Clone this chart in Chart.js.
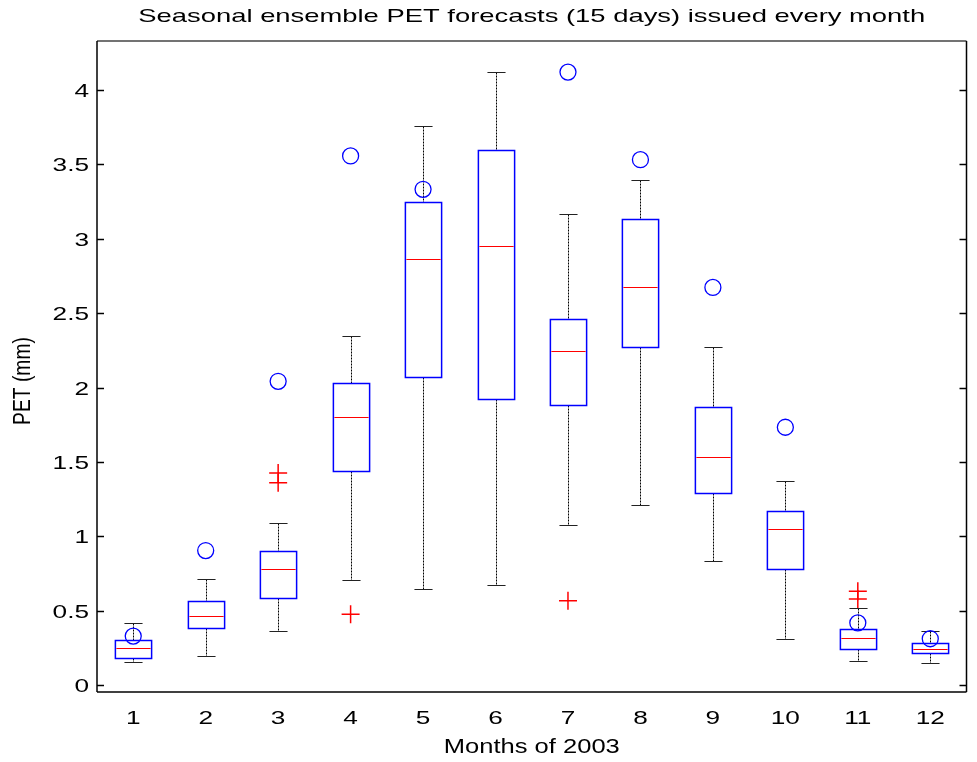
<!DOCTYPE html>
<html>
<head>
<meta charset="utf-8">
<script src="https://cdn.jsdelivr.net/npm/chart.js@4"></script>
<style>
  body { margin: 0; background: #fff; }
  #wrap { width: 977px; height: 762px; }
</style>
</head>
<body>
<div id="wrap"><canvas id="chart"></canvas></div>
<script>
// data
const months = [1, 2, 3, 4, 5, 6, 7, 8, 9, 10, 11, 12];
const upperWhisker = [0.417, 0.713, 1.089, 2.349, 3.758, 4.121, 3.17, 3.398, 2.27, 1.371, 0.52, 0.365];
const q3 = [0.30, 0.568, 0.904, 2.029, 3.25, 3.60, 2.458, 3.13, 1.868, 1.17, 0.378, 0.284];
const medians = [0.246, 0.461, 0.783, 1.80, 2.861, 2.955, 2.244, 2.673, 1.532, 1.049, 0.313, 0.244];
const q1 = [0.179, 0.380, 0.582, 1.441, 2.069, 1.921, 1.881, 2.27, 1.29, 0.78, 0.244, 0.217];
const lowerWhisker = [0.152, 0.193, 0.365, 0.703, 0.646, 0.673, 1.076, 1.21, 0.837, 0.311, 0.163, 0.15];
const observed = [0.329, 0.904, 2.042, 3.557, 3.333, null, 4.121, 3.532, 2.673, 1.733, 0.418, 0.311];
const outlierMonths = [3, 3, 4, 7, 11, 11];
const outlierValues = [1.425, 1.36, 0.476, 0.566, 0.631, 0.579];
const yTicks = [0, 0.5, 1, 1.5, 2, 2.5, 3, 3.5, 4];
const xTicks = months;

const titleText = 'Seasonal ensemble PET forecasts (15 days) issued every month';
const xTitle = 'Months of 2003';
const yTitle = 'PET (mm)';

const FONT = '"Liberation Sans", Arial, sans-serif';

// the reference text looks stretched sideways, so draw it with a horizontal scale
function wideText(ctx, txt, x, y, size, sx, align) {
  ctx.save();
  ctx.translate(x, y);
  ctx.scale(sx, 1);
  ctx.font = size + 'px ' + FONT;
  ctx.textAlign = align;
  ctx.textBaseline = 'middle';
  ctx.fillStyle = '#000';
  ctx.fillText(txt, 0, 0);
  ctx.restore();
}

function line(ctx, x1, y1, x2, y2) {
  ctx.beginPath();
  ctx.moveTo(x1, y1);
  ctx.lineTo(x2, y2);
  ctx.stroke();
}

const boxPlugin = {
  id: 'boxes',
  beforeDatasetsDraw(chart) {
    const ctx = chart.ctx;
    const xs = chart.scales.x, ys = chart.scales.y;
    const half = (xs.getPixelForValue(1.25) - xs.getPixelForValue(1));
    const capHalf = (xs.getPixelForValue(1.125) - xs.getPixelForValue(1));
    ctx.save();
    months.forEach((m, i) => {
      const cx = Math.round(xs.getPixelForValue(m)) + 0.5;
      const yUp = Math.round(ys.getPixelForValue(upperWhisker[i])) + 0.5;
      const yQ3 = Math.round(ys.getPixelForValue(q3[i])) + 0.5;
      const yMed = Math.round(ys.getPixelForValue(medians[i])) + 0.5;
      const yQ1 = Math.round(ys.getPixelForValue(q1[i])) + 0.5;
      const yLo = Math.round(ys.getPixelForValue(lowerWhisker[i])) + 0.5;

      // whiskers
      ctx.strokeStyle = '#000';
      ctx.lineWidth = 1;
      ctx.setLineDash([2, 1]);
      line(ctx, cx, yUp, cx, yQ3);
      line(ctx, cx, yQ1, cx, yLo);
      ctx.setLineDash([]);
      ctx.strokeStyle = '#222';
      line(ctx, cx - capHalf, yUp, cx + capHalf, yUp);
      line(ctx, cx - capHalf, yLo, cx + capHalf, yLo);

      // box
      ctx.strokeStyle = '#0000ff';
      ctx.lineWidth = 1.5;
      ctx.strokeRect(cx - half, yQ3, half * 2, yQ1 - yQ3);

      // median
      ctx.strokeStyle = '#ff0000';
      ctx.lineWidth = 1;
      line(ctx, cx - half + 1, yMed, cx + half - 1, yMed);
    });
    ctx.restore();
  },
  afterDraw(chart) {
    const ctx = chart.ctx;
    const a = chart.chartArea;
    const xs = chart.scales.x, ys = chart.scales.y;
    ctx.save();

    // frame
    ctx.lineWidth = 1.5;
    ctx.strokeStyle = '#444';
    line(ctx, a.left, a.top, a.right, a.top);
    ctx.strokeStyle = '#000';
    line(ctx, a.left, a.top, a.left, a.bottom);
    line(ctx, a.left, a.bottom, a.right, a.bottom);
    line(ctx, a.right, a.top, a.right, a.bottom);

    // inward ticks on both sides
    yTicks.forEach(t => {
      const y = Math.round(ys.getPixelForValue(t)) + 0.5;
      line(ctx, a.left, y, a.left + 7, y);
      line(ctx, a.right - 7, y, a.right, y);
      wideText(ctx, String(t), a.left - 8, y + 1, 19, 1.38, 'right');
    });
    xTicks.forEach(t => {
      wideText(ctx, String(t), xs.getPixelForValue(t), a.bottom + 27, 19, 1.38, 'center');
    });

    const midX = (a.left + a.right) / 2;
    wideText(ctx, titleText, midX, 16.5, 18.5, 1.48, 'center');
    wideText(ctx, xTitle, midX, 748, 19.5, 1.31, 'center');

    ctx.save();
    ctx.translate(23, 381);
    ctx.scale(1.28, 1);
    ctx.rotate(-Math.PI / 2);
    ctx.font = '19.3px ' + FONT;
    ctx.textAlign = 'center';
    ctx.textBaseline = 'middle';
    ctx.fillStyle = '#000';
    ctx.fillText(yTitle, 0, 0);
    ctx.restore();

    ctx.restore();
  }
};

const obsPoints = [];
months.forEach((m, i) => {
  if (observed[i] !== null) obsPoints.push({ x: m, y: observed[i] });
});
const outPoints = outlierMonths.map((m, i) => ({ x: m, y: outlierValues[i] }));

new Chart(document.getElementById('chart'), {
  type: 'scatter',
  data: {
    datasets: [
      {
        label: 'Outliers',
        data: outPoints,
        pointStyle: 'cross',
        pointRadius: 9,
        pointBorderWidth: 1.5,
        borderColor: '#ff0000',
        backgroundColor: '#ff0000'
      },
      {
        label: 'Observed',
        data: obsPoints,
        pointStyle: 'circle',
        pointRadius: 8,
        pointBorderWidth: 1.3,
        borderColor: '#0000ff',
        backgroundColor: 'rgba(0,0,0,0)'
      }
    ]
  },
  options: {
    responsive: true,
    maintainAspectRatio: false,
    animation: false,
    layout: { padding: { left: 97, right: 10, top: 41, bottom: 70 } },
    scales: {
      x: { type: 'linear', min: 0.5, max: 12.5, display: false },
      y: { type: 'linear', min: -0.047, max: 4.33, display: false }
    },
    plugins: {
      legend: { display: false },
      tooltip: { enabled: false },
      title: { display: false }
    },
    events: []
  },
  plugins: [boxPlugin]
});
</script>
</body>
</html>
